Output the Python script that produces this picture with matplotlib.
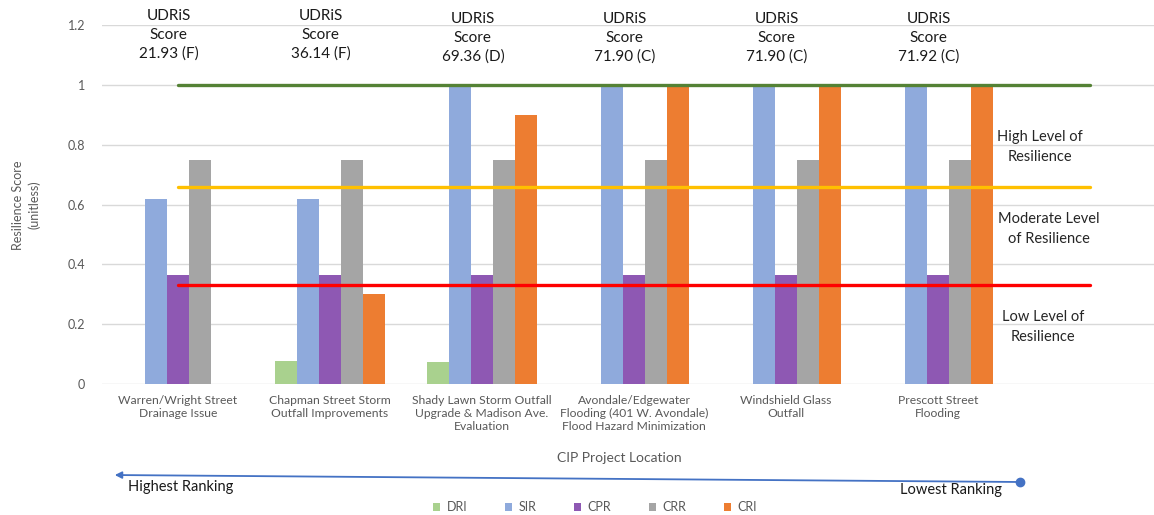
import matplotlib.pyplot as plt
import numpy as np

plt.rcParams['font.family'] = ['Lato', 'DejaVu Sans']

projects = ["Warren/Wright Street\nDrainage Issue",
            "Chapman Street Storm\nOutfall Improvements",
            "Shady Lawn Storm Outfall\nUpgrade & Madison Ave.\nEvaluation",
            "Avondale/Edgewater\nFlooding (401 W. Avondale)\nFlood Hazard Minimization",
            "Windshield Glass\nOutfall",
            "Prescott Street\nFlooding",
            ""]
series_names = ["DRI", "SIR", "CPR", "CRR", "CRI"]
dri = [0.0, 0.078, 0.072, 0.0, 0.0, 0.0, 0.0]
sir = [0.62, 0.62, 1.0, 1.0, 1.0, 1.0, 0.0]
cpr = [0.365, 0.365, 0.365, 0.365, 0.365, 0.365, 0.0]
crr = [0.75, 0.75, 0.75, 0.75, 0.75, 0.75, 0.0]
cri = [0.0, 0.30, 0.90, 1.0, 1.0, 1.0, 0.0]
udris_scores = ["21.93 (F)", "36.14 (F)", "69.36 (D)", "71.90 (C)", "71.90 (C)", "71.92 (C)"]

high_level = 1.0
moderate_level = 0.66
low_level = 0.33

colors = ['#A9D18E', '#8FAADC', '#8E58B3', '#A5A5A5', '#ED7D31']

W, H = 1154, 515
fig = plt.figure(figsize=(W / 100, H / 100), dpi=100)
ax = fig.add_axes([102 / W, 1 - 384 / H, 1 - 102 / W, (384 - 25) / H])

x = np.arange(len(projects))
bw = 0.145
for k, (vals, name) in enumerate(zip([dri, sir, cpr, crr, cri], series_names)):
    ax.bar(x + (k - 2) * bw, vals, width=bw, color=colors[k], label=name, zorder=2)

# resilience thresholds
ax.plot(x, [high_level] * len(x), color='#548235', lw=2.4, zorder=3, solid_capstyle='round')
ax.plot(x, [moderate_level] * len(x), color='#FFC000', lw=2.4, zorder=3, solid_capstyle='round')
ax.plot(x, [low_level] * len(x), color='#FF0000', lw=2.4, zorder=3, solid_capstyle='round')

ax.set_xlim(-0.5, -0.5 + (W - 102) / 152)
ax.set_ylim(0, 1.2)
ax.set_yticks([0, 0.2, 0.4, 0.6, 0.8, 1.0, 1.2])
ax.set_yticklabels(["0", "0.2", "0.4", "0.6", "0.8", "1", "1.2"])
ax.set_xticks(x)
ax.set_xticklabels(projects, fontsize=8.7, color='#595959', linespacing=1.2)
ax.tick_params(axis='y', length=0, pad=12, labelsize=9, labelcolor='#595959')
ax.tick_params(axis='x', length=0, pad=8)
ax.grid(axis='y', color='#D9D9D9', lw=1.0, zorder=0)
ax.set_axisbelow(True)
for s in ax.spines.values():
    s.set_visible(False)

# UDRiS score labels above each project
for i, sc in enumerate(udris_scores):
    ax.text(i - 0.06, 1.167 if i < 2 else 1.157, "UDRiS\nScore\n" + sc, ha='center', va='center',
            fontsize=11, color='#1a1a1a', linespacing=1.45, clip_on=False)

def fig_text(px, py, s, **kw):
    fig.text(px / W, 1 - py / H, s, **kw)

fig_text(1040, 147, "High Level of\nResilience", ha='center', va='center', fontsize=10.5,
         color='#262626', linespacing=1.5)
fig_text(1049, 229, "Moderate Level\nof Resilience", ha='center', va='center', fontsize=10.5,
         color='#262626', linespacing=1.5)
fig_text(1043, 327, "Low Level of\nResilience", ha='center', va='center', fontsize=10.5,
         color='#262626', linespacing=1.5)

fig_text(26, 205, "Resilience Score\n(unitless)", ha='center', va='center', rotation=90,
         fontsize=9, color='#595959', linespacing=1.4)
fig_text(619, 458, "CIP Project Location", ha='center', va='center', fontsize=10, color='#595959')

# ranking arrow
fig.add_artist(plt.Line2D([1020 / W], [1 - 482 / H], marker='o', ms=6, color='#4472C4'))
fig.patches.append(plt.matplotlib.patches.FancyArrowPatch(
    (1020 / W, 1 - 482 / H), (112 / W, 1 - 475 / H), transform=fig.transFigure,
    arrowstyle='-|>', mutation_scale=10, color='#4472C4', lw=1.3))
fig_text(181, 487, "Highest Ranking", ha='center', va='center', fontsize=10.5, color='#1a1a1a')
fig_text(951, 490, "Lowest Ranking", ha='center', va='center', fontsize=10.5, color='#1a1a1a')

handles, labels = ax.get_legend_handles_labels()
fig.legend(handles, labels, loc='center', bbox_to_anchor=(595 / W, 1 - 507 / H), ncol=5,
           frameon=False, fontsize=9, labelcolor='#595959', handlelength=0.6, handleheight=0.6,
           handletextpad=0.5, columnspacing=3.0)

fig.savefig("out.png", dpi=100)
